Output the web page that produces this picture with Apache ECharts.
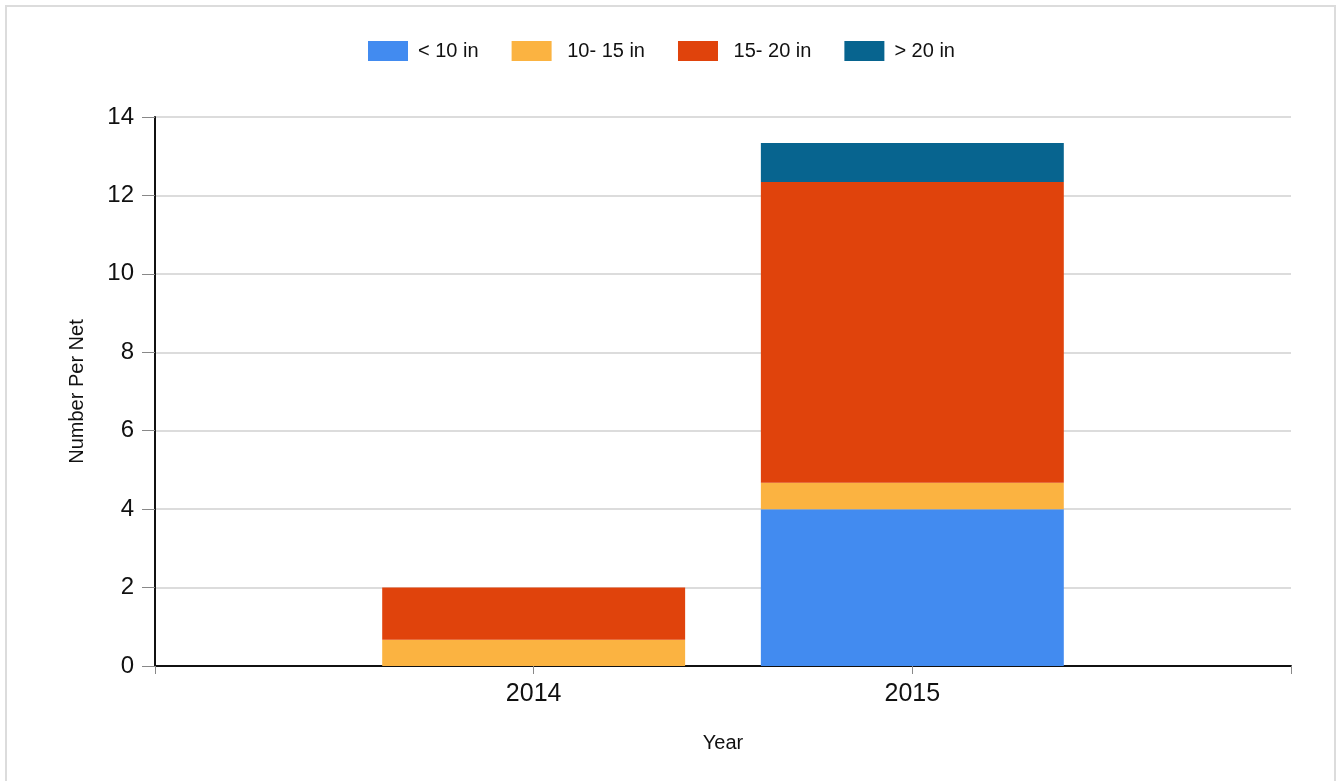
<!DOCTYPE html>
<html>
<head>
<meta charset="utf-8">
<script src="https://cdn.jsdelivr.net/npm/echarts@6/dist/echarts.min.js"></script>
<style>
html,body{margin:0;padding:0;background:#fff;overflow:hidden;}
#frame{position:absolute;left:5px;top:5px;width:1327px;height:800px;border:2px solid #dcdcdc;box-sizing:content-box;}
#chart{position:absolute;left:0;top:0;width:1336px;height:781px;}
</style>
</head>
<body>
<div id="frame"></div>
<div id="chart"></div>
<script>
var categories = ['', '2014', '2015', ''];
var seriesNames = ['< 10 in', ' 10- 15 in', ' 15- 20 in', '> 20 in'];
var under10 = [null, 0, 4, null];
var from10to15 = [null, 0.67, 0.67, null];
var from15to20 = [null, 1.33, 7.67, null];
var over20 = [null, 0, 1, null];
var colors = ['#428bf0', '#fbb341', '#e0430c', '#07648f'];

var chart = echarts.init(document.getElementById('chart'));
var font = 'Liberation Sans, Arial, sans-serif';
function bar(name, data, color) {
  return {
    name: name, type: 'bar', stack: 'total', data: data, barWidth: '80%',
    itemStyle: { color: color }, emphasis: { disabled: true }
  };
}
chart.setOption({
  animation: false,
  textStyle: { fontFamily: font },
  legend: {
    top: 41, left: 368, padding: 0, itemWidth: 40, itemHeight: 20, itemGap: 33,
    icon: 'rect',
    textStyle: { fontSize: 20, color: '#111', fontFamily: font, padding: [0, 0, 0, 5] },
    data: seriesNames
  },
  grid: { left: 155, right: 45, top: 117, bottom: 115, containLabel: false },
  xAxis: {
    type: 'category', data: categories, boundaryGap: false,
    name: 'Year', nameLocation: 'middle', nameGap: 67,
    nameTextStyle: { fontSize: 20, color: '#111', fontFamily: font },
    axisLine: { lineStyle: { color: '#111', width: 2 } },
    axisTick: { show: true, length: 8, lineStyle: { color: '#888', width: 1 } },
    axisLabel: { fontSize: 25, color: '#111', margin: 16, fontFamily: font },
    splitLine: { show: false }
  },
  yAxis: {
    type: 'value', min: 0, max: 14, interval: 2,
    name: 'Number Per Net', nameLocation: 'middle', nameGap: 68,
    nameTextStyle: { fontSize: 20, color: '#111', fontFamily: font },
    axisLine: { show: true, lineStyle: { color: '#111', width: 2 } },
    axisTick: { show: true, length: 13, lineStyle: { color: '#888', width: 1 } },
    axisLabel: { fontSize: 24, color: '#111', margin: 21, fontFamily: font },
    splitLine: { show: true, lineStyle: { color: '#dcdcdc', width: 2 } }
  },
  series: [
    bar(seriesNames[0], under10, colors[0]),
    bar(seriesNames[1], from10to15, colors[1]),
    bar(seriesNames[2], from15to20, colors[2]),
    bar(seriesNames[3], over20, colors[3])
  ]
});
</script>
</body>
</html>
